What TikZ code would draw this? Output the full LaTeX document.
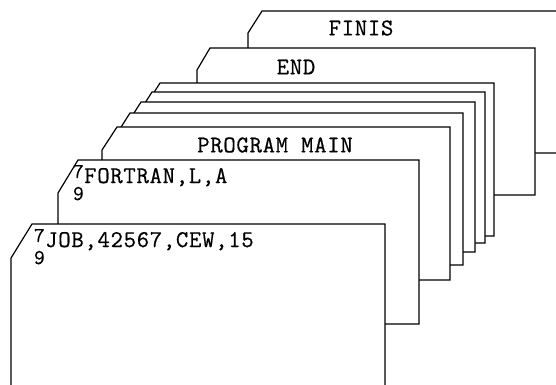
\documentclass[tikz,border=0pt]{standalone}
\usepackage{fontspec}
\newfontfamily\cardfont{Latin Modern Mono}[LetterSpace=3,FakeBold=0.6]
\newfontfamily\punchfont{Latin Modern Mono}[FakeBold=0.6]
\usetikzlibrary{calc,positioning}

\begin{document}
\begin{tikzpicture}[x=1pt, y=-1pt,
		card/.style={draw, fill=white, line width=1.2pt, line join=miter},
		cardtext/.style={font=\cardfont\fontsize{24}{26}\selectfont, inner sep=0pt},
		punch/.style={font=\punchfont\fontsize{21}{23}\selectfont, inner sep=0pt}]

			\def\W{556} \def\H{384}
			\useasboundingbox (0,0) rectangle (\W,\H);
			\clip (0,0) rectangle (\W,\H);

			% the deck, back to front: left, top, cut x, cut y, right, bottom
			\foreach \lx/\ty/\cx/\cy/\rx/\by in {
				262/11/14/22/600/153,  % FINIS
				210/48/13/22/535/195,  % END
				160/83/14/22/494/236,
				152/92/14/22/485/243,
				141/102/14/22/475/252,
				130/113/14/22/463/265,
				117/127/15/23/450/280, % PROGRAM MAIN
				78/160/20/33/419/324,  % FORTRAN
				32/224/21/34/385/420}  % JOB
			{
				\draw[card] (\lx,\ty) -- (\rx,\ty) -- (\rx,\by) -- (\lx-\cx,\by) -- (\lx-\cx,\ty+\cy) -- cycle;
			}

			% card texts
			\node[cardtext] (finis) at (361,28) {FINIS};
			\node[cardtext] (end) at (296,67) {END};
			\node[cardtext] (main) at (275,145) {PROGRAM MAIN};
			\node[cardtext, anchor=base west] (fortran) at (84,183) {FORTRAN,L,A};
			\node[cardtext, anchor=base west] (job) at (45,247) {JOB,42567,CEW,15};

			% 7-9 punch in column 1
			\node[punch, anchor=base east, yshift=5pt] (fortran7) at (fortran.base west) {7};
			\node[punch, anchor=base east, yshift=-17pt] (fortran9) at (fortran.base west) {9};
			\node[punch, anchor=base east, yshift=5pt] (job7) at (job.base west) {7};
			\node[punch, anchor=base east, yshift=-17pt] (job9) at (job.base west) {9};
		\end{tikzpicture}
\end{document}
